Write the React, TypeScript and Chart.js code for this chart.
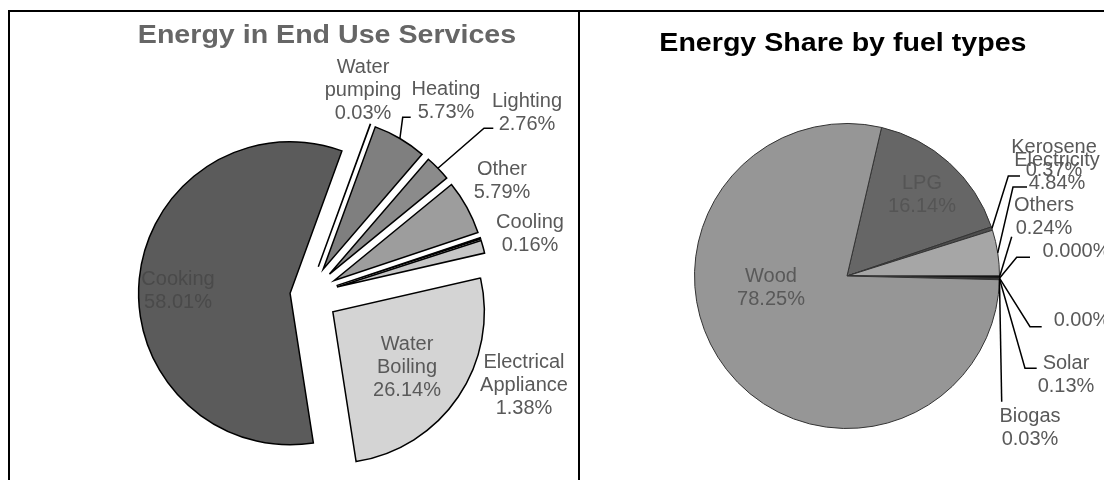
import React, { useEffect, useRef } from 'react';
import { Chart, registerables, ArcElement, PieController } from 'chart.js';

Chart.register(...registerables);

// ---------- Data ----------
const endUseTitle = 'Energy in End Use Services';
const endUseCategories = ['Water pumping', 'Heating', 'Lighting', 'Other', 'Cooling', 'Electrical Appliance', 'Water Boiling', 'Cooking'];
const endUseValues = [0.03, 5.73, 2.76, 5.79, 0.16, 1.38, 26.14, 58.01];
const endUseDecimals = [2, 2, 2, 2, 2, 2, 2, 2];

const fuelTitle = 'Energy Share by fuel types';
const fuelCategories = ['LPG', 'Kerosene', 'Electricity', 'Others', '', '', 'Solar', 'Biogas', 'Wood'];
const fuelValues = [16.14, 0.37, 4.84, 0.24, 0.0, 0.0, 0.13, 0.03, 78.25];
const fuelDecimals = [2, 2, 2, 2, 3, 2, 2, 2, 2];

// ---------- Styles ----------
const endUseColors = ['#7a7a7a', '#7f7f7f', '#8b8b8b', '#9d9d9d', '#000000', '#c6c6c6', '#d4d4d4', '#5b5b5b'];
const endUseExplode = [30, 30, 30, 30, 30, 30, 30, 18];
const fuelColors = ['#666666', '#4d4d4d', '#a6a6a6', '#000000', '#ffffff', '#ffffff', '#333333', '#222222', '#969696'];

type LabelLayout = { dx: number; dy: number; wrap?: boolean; color?: string; leader?: [number, number][] };

const endUseLabelLayout: LabelLayout[] = [
  { dx: 55, dy: -205, wrap: true },
  { dx: 138, dy: -194, leader: [[94.7, -177.7], [102.7, -177.7]] },
  { dx: 219, dy: -182, leader: [[176, -166.7], [185.3, -166.7]] },
  { dx: 194, dy: -114.5 },
  { dx: 222, dy: -61 },
  { dx: 216, dy: 90, wrap: true },
  { dx: 99, dy: 72, wrap: true },
  { dx: -130, dy: -4.5, color: '#4a4a4a' },
];

const fuelLabelLayout: LabelLayout[] = [
  { dx: 75, dy: -81, color: '#555555' },
  { dx: 207, dy: -117.5, leader: [[161.3, -100], [173, -100]] },
  { dx: 210, dy: -104.5, leader: [[166, -89], [180, -89]] },
  { dx: 197, dy: -59, leader: [[164.7, -39.3]] },
  { dx: 229.5, dy: -25, leader: [[169.7, -18.7], [183, -18.7]] },
  { dx: 235, dy: 44, leader: [[183, 50.7], [194.7, 50.7]] },
  { dx: 219, dy: 98.5, leader: [[178, 92.3], [189.7, 92.3]] },
  { dx: 183, dy: 151.5, leader: [[154.7, 125.7]] },
  { dx: -76, dy: 11.5 },
];

// ---------- Exploded arc element (pure translation along bisector) ----------
class ExplodedArc extends (ArcElement as any) {
  static id = 'explodedArc';
  draw(ctx: CanvasRenderingContext2D) {
    const c: any = (this as any).$context;
    const ex = c && c.dataset && c.dataset.explode ? c.dataset.explode[c.dataIndex] || 0 : 0;
    const mid = ((this as any).startAngle + (this as any).endAngle) / 2;
    ctx.save();
    ctx.translate(Math.cos(mid) * ex, Math.sin(mid) * ex);
    super.draw(ctx);
    ctx.restore();
  }
}

class ExplodedPieController extends (PieController as any) {
  static id = 'explodedPie';
  static defaults = { dataElementType: 'explodedArc' };
}

Chart.register(ExplodedArc as any, ExplodedPieController as any);

const LABEL_FONT = '20px "Liberation Sans", Arial, sans-serif';
const LINE_H = 23;

function makeLabelPlugin(names: string[], values: number[], decimals: number[], layout: LabelLayout[], textColor: string) {
  return {
    id: 'sliceLabels',
    afterDatasetsDraw(chart: any) {
      const meta = chart.getDatasetMeta(0);
      const ds: any = chart.data.datasets[0];
      const ctx: CanvasRenderingContext2D = chart.ctx;
      ctx.save();
      meta.data.forEach((arc: any, i: number) => {
        const L = layout[i];
        if (!L) return;
        const p = arc.getProps(['x', 'y', 'startAngle', 'endAngle', 'outerRadius'], true);
        const mid = (p.startAngle + p.endAngle) / 2;
        const ex = ds.explode ? ds.explode[i] || 0 : 0;
        if (L.leader) {
          const r = ex + p.outerRadius;
          ctx.beginPath();
          ctx.moveTo(p.x + Math.cos(mid) * r, p.y + Math.sin(mid) * r);
          L.leader.forEach(([lx, ly]) => ctx.lineTo(p.x + lx, p.y + ly));
          ctx.strokeStyle = '#000000';
          ctx.lineWidth = 1.5;
          ctx.lineJoin = 'miter';
          ctx.stroke();
        }
        const name = names[i];
        const pct = values[i].toFixed(decimals[i]) + '%';
        const lines = [...(name ? (L.wrap ? name.split(' ') : [name]) : []), pct];
        ctx.font = LABEL_FONT;
        ctx.fillStyle = L.color || textColor;
        ctx.textAlign = 'center';
        ctx.textBaseline = 'middle';
        const top = p.y + L.dy - ((lines.length - 1) * LINE_H) / 2;
        lines.forEach((t, k) => ctx.fillText(t, p.x + L.dx, top + k * LINE_H));
      });
      ctx.restore();
    },
  };
}

const sumOf = (a: number[]) => a.reduce((s, v) => s + v, 0);

export default function App() {
  const leftRef = useRef<HTMLCanvasElement>(null);
  const rightRef = useRef<HTMLCanvasElement>(null);

  useEffect(() => {
    document.body.style.overflow = 'hidden';
    const left = new Chart(leftRef.current as HTMLCanvasElement, {
      type: 'explodedPie' as any,
      data: {
        labels: endUseCategories,
        datasets: [
          {
            data: endUseValues,
            backgroundColor: endUseColors,
            borderColor: '#000000',
            borderWidth: 1.5,
            borderJoinStyle: 'miter',
            explode: endUseExplode,
          } as any,
        ],
      },
      options: {
        responsive: false,
        animation: false,
        radius: 151.5,
        rotation: 20,
        events: [],
        layout: { padding: { left: 28, right: 0, top: 98, bottom: 0 } },
        plugins: { legend: { display: false }, tooltip: { enabled: false }, title: { display: false } },
      } as any,
      plugins: [makeLabelPlugin(endUseCategories, endUseValues, endUseDecimals, endUseLabelLayout, '#595959')],
    });
    const right = new Chart(rightRef.current as HTMLCanvasElement, {
      type: 'explodedPie' as any,
      data: {
        labels: fuelCategories,
        datasets: [
          {
            data: fuelValues,
            backgroundColor: fuelColors,
            borderColor: '#333333',
            borderWidth: 1,
            borderJoinStyle: 'miter',
          } as any,
        ],
      },
      options: {
        responsive: false,
        animation: false,
        radius: 152.5,
        rotation: 13.1,
        events: [],
        layout: { padding: { left: 8, right: 0, top: 60, bottom: 0 } },
        plugins: { legend: { display: false }, tooltip: { enabled: false }, title: { display: false } },
      } as any,
      plugins: [makeLabelPlugin(fuelCategories, fuelValues, fuelDecimals, fuelLabelLayout, '#595959')],
    });
    void sumOf;
    return () => {
      left.destroy();
      right.destroy();
    };
  }, []);

  const titleBase: React.CSSProperties = {
    position: 'absolute',
    width: 500,
    textAlign: 'center',
    font: 'bold 26px "Liberation Sans", Arial, sans-serif',
    lineHeight: '30px',
    whiteSpace: 'nowrap',
  };

  return (
    <div>
      <div
        style={{
          position: 'absolute', left: 8, top: 10, width: 572, height: 470,
          borderTop: '2px solid #000', borderLeft: '2px solid #000', borderRight: '2px solid #000',
          boxSizing: 'border-box',
        }}
      />
      <div
        style={{
          position: 'absolute', left: 580, top: 10, width: 524, height: 470,
          borderTop: '2px solid #000', boxSizing: 'border-box',
        }}
      />
      <canvas ref={leftRef} width={568} height={468} style={{ position: 'absolute', left: 10, top: 12, width: 568, height: 468 }} />
      <canvas ref={rightRef} width={522} height={468} style={{ position: 'absolute', left: 582, top: 12, width: 522, height: 468 }} />
      <div style={{ ...titleBase, left: 327 - 250, top: 19, color: '#666666' }}>
        <span style={{ display: 'inline-block', transform: 'scaleX(1.1)' }}>{endUseTitle}</span>
      </div>
      <div style={{ ...titleBase, left: 843 - 250, top: 27, color: '#000000' }}>
        <span style={{ display: 'inline-block', transform: 'scaleX(1.1)' }}>{fuelTitle}</span>
      </div>
    </div>
  );
}
